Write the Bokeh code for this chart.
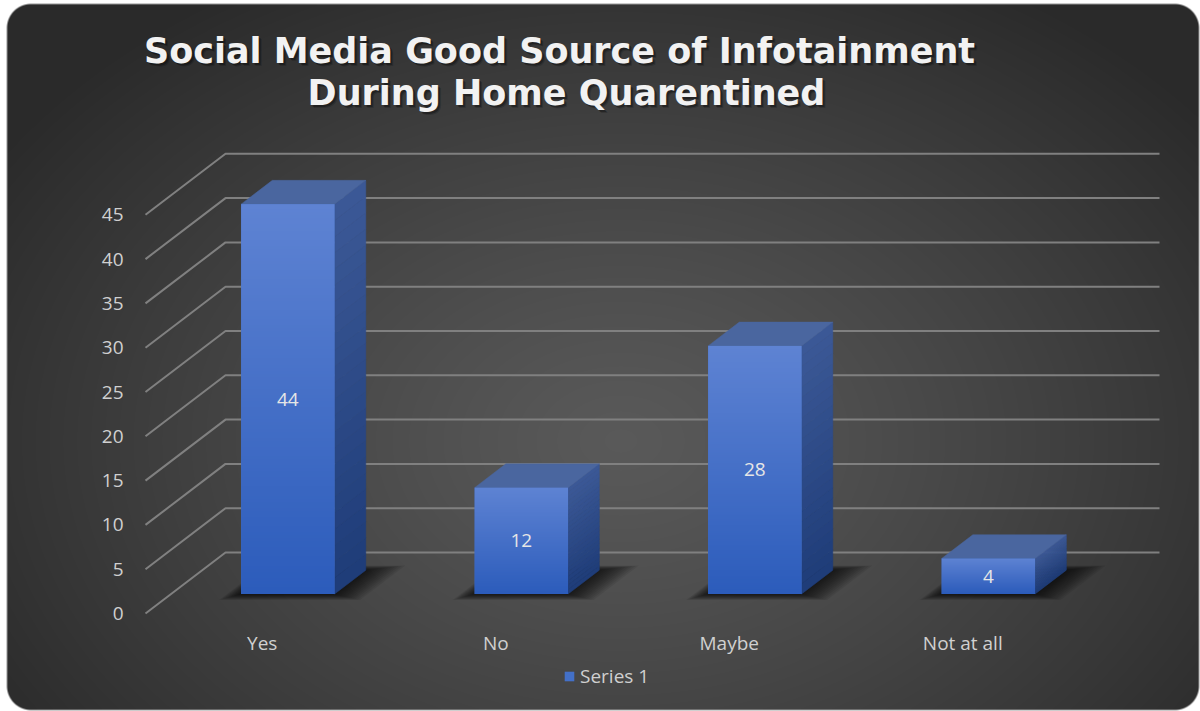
import numpy as np
from bokeh.plotting import figure
from bokeh.models import Range1d, Label, Legend, LegendItem, ColumnDataSource
from bokeh.core.properties import value
from bokeh.embed import file_html
from bokeh.resources import INLINE

# ---------------- data ----------------
categories = ["Yes", "No", "Maybe", "Not at all"]
counts = [44, 12, 28, 4]
y_ticks = [0, 5, 10, 15, 20, 25, 30, 35, 40, 45]
title_lines = ["Social Media Good Source of Infotainment", "During Home Quarentined"]
series_name = "Series 1"

# ---------------- geometry (3D projection) ----------------
W, H = 1200, 711
X0, Y0 = 145.0, 613.0            # screen px of floor front-left, value 0
CAT_PX, VAL_PX = 233.5, 8.86      # px per category / per unit value
DX = 80.0 / CAT_PX                # depth shift in category units
DY = 61.0 / VAL_PX                # depth shift in value units
BAR_HALF = 0.2
D0, D1 = 0.32, 0.71               # bar front / back depth
N = len(categories)

def proj(c, v, d):
    return c + d * DX, v + d * DY

x_rng = Range1d(-X0 / CAT_PX, (W - X0) / CAT_PX)
y_rng = Range1d(-(H - Y0) / VAL_PX, Y0 / VAL_PX)

p = figure(width=W, height=H, x_range=x_rng, y_range=y_rng,
           output_backend="svg", toolbar_location=None, min_border=0,
           x_axis_location=None, y_axis_location=None,
           outline_line_color=None, background_fill_color="white",
           border_fill_color="white")
p.grid.visible = False

# ---------------- background (radial gradient, rounded card) ----------------
yy, xx = np.mgrid[0:H, 0:W].astype(float)
r = np.sqrt(((xx - 620) / 740.0) ** 2 + ((yy - 440) / 530.0) ** 2)
t = np.clip(r, 0, 1)
gray = 89 - 47 * t ** 1.2
L, T, R, B, RAD = 6, 3, 1198, 709, 24
qx = np.maximum(np.maximum(L + RAD - xx, xx - (R - RAD)), 0)
qy = np.maximum(np.maximum(T + RAD - yy, yy - (B - RAD)), 0)
inside = np.clip(RAD - np.sqrt(qx ** 2 + qy ** 2) + 0.5, 0, 1)
inside *= np.clip(xx - L + 1, 0, 1) * np.clip(R - xx + 1, 0, 1)
inside *= np.clip(yy - T + 1, 0, 1) * np.clip(B - yy + 1, 0, 1)
val = gray * inside + 255 * (1 - inside)
img = np.empty((H, W), dtype=np.uint32)
view = img.view(dtype=np.uint8).reshape((H, W, 4))
v8 = np.round(val).astype(np.uint8)
view[..., 0] = v8
view[..., 1] = v8
view[..., 2] = v8
view[..., 3] = 255
img = np.flipud(img).copy()
p.image_rgba(image=[img], x=x_rng.start, y=y_rng.start,
             dw=x_rng.end - x_rng.start, dh=y_rng.end - y_rng.start)

# ---------------- gridlines (left wall + back wall) ----------------
gx, gy = [], []
for v in y_ticks:
    a = proj(0, v, 0)
    b = proj(0, v, 1)
    c = proj(N, v, 1)
    gx.append([a[0], b[0], c[0]])
    gy.append([a[1], b[1], c[1]])
p.multi_line(gx, gy, line_color="#808080", line_width=2)

# ---------------- bar shadows (soft, layered) ----------------
NL = 12
for k in range(NL):
    e = 0.11 * (1 - k / NL)
    sx, sy = [], []
    for i in range(N):
        c0 = i + 0.5 - BAR_HALF - e * 0.55
        c1 = i + 0.5 + BAR_HALF + e * 1.3
        d0 = D0 - e * 0.9
        d1 = D1 + e * 0.7
        pts = [proj(c0, 0, d0), proj(c1, 0, d0), proj(c1, 0, d1), proj(c0, 0, d1)]
        sx.append([q[0] for q in pts])
        sy.append([q[1] for q in pts])
    p.patches(sx, sy, fill_color="black", fill_alpha=0.075, line_color=None)

# ---------------- bars ----------------
def lerp(c1, c2, f):
    return "#%02x%02x%02x" % tuple(int(round(a + (b - a) * f)) for a, b in zip(c1, c2))

SIDE_TOP, SIDE_BOT = (0x3c, 0x59, 0x97), (0x1e, 0x3c, 0x78)
NS = 24
side_x, side_y, side_c = [], [], []
top_x, top_y = [], []
for i, v in enumerate(counts):
    cr = i + 0.5 + BAR_HALF
    cl = i + 0.5 - BAR_HALF
    for k in range(NS):
        v0 = v * k / NS
        v1 = v * (k + 1) / NS
        pts = [proj(cr, v0, D0), proj(cr, v1, D0), proj(cr, v1, D1), proj(cr, v0, D1)]
        side_x.append([q[0] for q in pts])
        side_y.append([q[1] for q in pts])
        side_c.append(lerp(SIDE_BOT, SIDE_TOP, (k + 0.5) / NS))
    pts = [proj(cl, v, D0), proj(cr, v, D0), proj(cr, v, D1), proj(cl, v, D1)]
    top_x.append([q[0] for q in pts])
    top_y.append([q[1] for q in pts])

p.patches(side_x, side_y, fill_color=side_c, line_color=side_c, line_width=0.6)
p.patches(top_x, top_y, fill_color="#4a669f", line_color="#4a669f", line_width=0.5)

front = ColumnDataSource(dict(
    left=[i + 0.5 - BAR_HALF + D0 * DX for i in range(N)],
    right=[i + 0.5 + BAR_HALF + D0 * DX for i in range(N)],
    bottom=[D0 * DY for _ in counts],
    top=[v + D0 * DY for v in counts],
    label=[str(v) for v in counts],
    cx=[i + 0.5 + D0 * DX for i in range(N)],
    cy=[v / 2 + D0 * DY for v in counts],
))
front_r = p.quad(left="left", right="right", bottom="bottom", top="top", source=front,
                 fill_color="#4370c8", line_color=None)

# vertical gradient overlay on each front face
FT, FB = (0x5e, 0x83, 0xd3), (0x2c, 0x5c, 0xbb)
NG = 128
grad = np.empty((NG, 1), dtype=np.uint32)
gv = grad.view(dtype=np.uint8).reshape((NG, 1, 4))
for k in range(NG):
    f = k / (NG - 1)  # 0 bottom -> 1 top
    for ch in range(3):
        gv[k, 0, ch] = int(round(FB[ch] + (FT[ch] - FB[ch]) * f))
    gv[k, 0, 3] = 255
p.image_rgba(image=[grad] * N, x=front.data["left"], y=front.data["bottom"],
             dw=[BAR_HALF * 2] * N, dh=counts)

p.text(x="cx", y="cy", text="label", source=front, text_align="center",
       text_baseline="middle", text_color="#e6e6e6", text_font=value("Open Sans"),
       text_font_size="19px")

# ---------------- axis labels ----------------
p.text(x=[0] * len(y_ticks), y=y_ticks, text=[str(v) for v in y_ticks],
       x_offset=-22, text_align="right", text_baseline="middle",
       text_color="#d0d0d0", text_font=value("Open Sans"), text_font_size="19px")
p.text(x=[i + 0.5 for i in range(N)], y=[(Y0 - 642) / VAL_PX] * N, text=categories,
       text_align="center", text_baseline="middle", text_color="#d0d0d0",
       text_font=value("Open Sans"), text_font_size="19px")

# ---------------- title ----------------
TFONT, TSIZE = "DejaVu Sans", "35px"
for txt, cx, by in [(title_lines[0], 559, 50), (title_lines[1], 566, 92)]:
    for dxs, dys, al in [(3, -3, 0.18), (2, -2, 0.3)]:
        p.add_layout(Label(x=cx + dxs, y=H - by + dys, x_units="screen", y_units="screen",
                           text=txt, text_align="center", text_baseline="alphabetic",
                           text_color="black", text_alpha=al, text_font=TFONT,
                           text_font_style="bold", text_font_size=TSIZE))
    p.add_layout(Label(x=cx, y=H - by, x_units="screen", y_units="screen",
                       text=txt, text_align="center", text_baseline="alphabetic",
                       text_color="#f2f2f2", text_font=TFONT,
                       text_font_style="bold", text_font_size=TSIZE))

# ---------------- legend ----------------
legend = Legend(items=[LegendItem(label=series_name, renderers=[front_r])],
                location=(563, 22), orientation="horizontal",
                background_fill_alpha=0, border_line_alpha=0, padding=0, margin=0,
                glyph_width=12, glyph_height=12, label_standoff=5,
                label_text_color="#d0d0d0", label_text_font="Open Sans",
                label_text_font_size="19px")
p.add_layout(legend)

open("out.html", "w").write(file_html(p, INLINE))
